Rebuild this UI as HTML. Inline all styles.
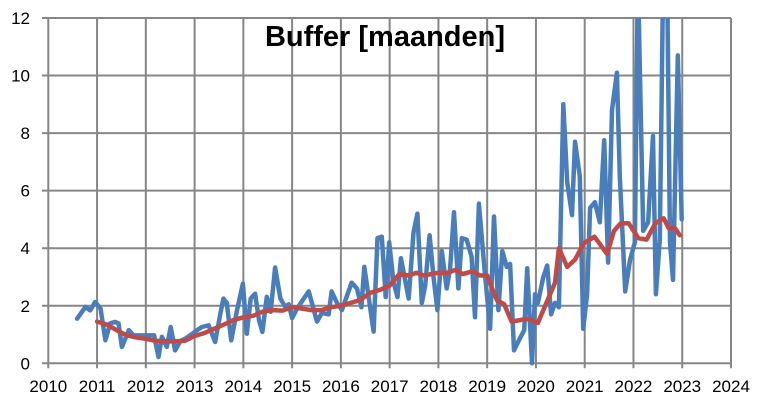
<!DOCTYPE html>
<html><head><meta charset="utf-8">
<style>
html,body{margin:0;padding:0;background:#fff;}
svg{display:block;font-family:"Liberation Sans",Calibri,sans-serif;}
</style></head>
<body>
<svg id="chart" width="766" height="411" viewBox="0 0 766 411">
  <g id="grid"></g>
  <g id="axes"></g>
  <g id="series"></g>
  <text x="385" y="46" text-anchor="middle" font-size="29" font-weight="bold" fill="#000">Buffer [maanden]</text>
</svg>
<script>
const xTicks = [2010,2011,2012,2013,2014,2015,2016,2017,2018,2019,2020,2021,2022,2023,2024];
const yTicks = [0,2,4,6,8,10,12];
const blueDates = [2010.59,2010.76,2010.86,2010.96,2011.07,2011.17,2011.27,2011.37,2011.44,2011.51,2011.65,2011.75,2011.92,2012.09,2012.17,2012.26,2012.33,2012.43,2012.51,2012.60,2012.71,2012.81,2012.95,2013.05,2013.15,2013.29,2013.42,2013.53,2013.59,2013.66,2013.75,2013.87,2013.99,2014.07,2014.15,2014.24,2014.32,2014.39,2014.48,2014.56,2014.65,2014.76,2014.86,2014.93,2015.00,2015.10,2015.34,2015.51,2015.61,2015.75,2015.81,2015.92,2016.02,2016.22,2016.33,2016.42,2016.48,2016.67,2016.75,2016.84,2016.92,2016.99,2017.08,2017.16,2017.23,2017.39,2017.49,2017.57,2017.66,2017.73,2017.82,2017.90,2017.98,2018.07,2018.17,2018.24,2018.32,2018.41,2018.48,2018.58,2018.68,2018.75,2018.83,2018.94,2019.06,2019.14,2019.23,2019.31,2019.40,2019.47,2019.55,2019.67,2019.76,2019.82,2019.92,2019.98,2020.04,2020.15,2020.23,2020.31,2020.39,2020.47,2020.56,2020.64,2020.74,2020.80,2020.90,2020.97,2021.05,2021.11,2021.21,2021.31,2021.40,2021.48,2021.56,2021.66,2021.72,2021.83,2021.93,2022.03,2022.09,2022.20,2022.30,2022.40,2022.46,2022.54,2022.61,2022.69,2022.75,2022.81,2022.91,2022.99];
const blueValues = [1.55,1.96,1.84,2.13,1.91,0.80,1.39,1.44,1.39,0.57,1.15,0.97,0.97,0.97,0.97,0.22,0.92,0.57,1.26,0.45,0.78,0.86,1.02,1.15,1.26,1.32,0.74,1.73,2.25,2.1,0.80,1.84,2.77,1.03,2.25,2.42,1.50,1.09,2.31,1.79,3.33,2.25,1.96,2.05,1.57,1.9,2.5,1.45,1.75,1.7,2.5,2.1,1.85,2.8,2.6,1.95,3.35,1.1,4.35,4.4,2.3,4.2,2.8,2.3,3.65,2.25,4.55,5.2,2.1,2.7,4.45,3.0,1.85,3.9,2.6,3.3,5.25,2.6,4.35,4.3,3.7,1.6,5.55,3.35,1.2,5.1,1.85,3.9,3.35,3.45,0.45,0.87,1.15,3.3,0.0,2.4,2.1,3.0,3.4,1.7,2.1,1.95,9.0,6.3,5.15,7.7,6.5,1.2,2.4,5.4,5.6,4.9,7.75,3.5,8.8,10.1,6.5,2.5,3.6,4.2,13.5,4.6,4.9,7.9,2.4,4.3,13.5,13.5,4.2,2.9,10.7,5.0];
const redDates = [2011.0,2011.2,2011.4,2011.6,2011.8,2012.0,2012.2,2012.5,2012.8,2013.0,2013.2,2013.4,2013.6,2013.8,2014.0,2014.2,2014.4,2014.6,2014.8,2015.0,2015.2,2015.4,2015.6,2015.8,2016.0,2016.2,2016.4,2016.6,2016.8,2017.0,2017.2,2017.4,2017.55,2017.7,2018.0,2018.2,2018.35,2018.5,2018.7,2018.85,2019.0,2019.1,2019.2,2019.35,2019.5,2019.67,2019.82,2020.04,2020.15,2020.39,2020.47,2020.64,2020.8,2020.98,2021.2,2021.46,2021.6,2021.74,2021.9,2022.1,2022.27,2022.45,2022.62,2022.72,2022.85,2022.95];
const redValues = [1.45,1.35,1.15,0.98,0.9,0.85,0.78,0.76,0.78,0.95,1.05,1.2,1.35,1.5,1.6,1.65,1.8,1.85,1.83,1.95,1.9,1.85,1.85,1.95,2.0,2.1,2.2,2.45,2.55,2.7,3.1,3.05,3.15,3.05,3.15,3.15,3.25,3.1,3.2,3.05,3.05,2.6,2.2,2.05,1.45,1.5,1.55,1.4,1.85,2.8,4.0,3.35,3.6,4.17,4.4,3.8,4.6,4.87,4.87,4.35,4.3,4.87,5.04,4.7,4.7,4.45];

const NS='http://www.w3.org/2000/svg';
const L=48.3, R=731, T=18, B=363.3, X0=2010, X1=2024, Y0=0, Y1=12;
function xs(v){return L+(v-X0)/(X1-X0)*(R-L);}
function ys(v){return B-(v-Y0)/(Y1-Y0)*(B-T);}
function mk(tag,attrs,parent){const e=document.createElementNS(NS,tag);for(const k in attrs)e.setAttribute(k,attrs[k]);parent.appendChild(e);return e;}
const grid=document.getElementById('grid'), axes=document.getElementById('axes'), series=document.getElementById('series');

yTicks.forEach(t=>{
  const ln=mk('line',{x1:42,x2:R,y1:ys(t),y2:ys(t),stroke:'#868686','stroke-width':2},grid);
  
  
  const tx=mk('text',{x:30,y:ys(t)+6,'text-anchor':'end','font-size':17,fill:'#000'},axes);
  tx.textContent=t;
  
  
});
xTicks.forEach(t=>{
  const ln=mk('line',{x1:xs(t),x2:xs(t),y1:T,y2:B+5,stroke:'#868686','stroke-width':2},grid);
  
  
  const tx=mk('text',{x:xs(t),y:392,'text-anchor':'middle','font-size':17,fill:'#000'},axes);
  tx.textContent=t;
  
  
});

const clip=mk('clipPath',{id:'pc'},series);
mk('rect',{x:L-5,y:T,width:R-L+10,height:B-T+6},clip);
function path(dates,vals){return dates.map((d,i)=>(i?'L':'M')+xs(d).toFixed(1)+','+ys(vals[i]).toFixed(1)).join(' ');}
const blue=mk('path',{d:path(blueDates,blueValues),fill:'none',stroke:'#4a7ebb','stroke-width':4.5,'stroke-linejoin':'round','stroke-linecap':'round','clip-path':'url(#pc)'},series);


const red=mk('path',{d:path(redDates,redValues),fill:'none',stroke:'#be4b48','stroke-width':4.5,'stroke-linejoin':'round','stroke-linecap':'round','clip-path':'url(#pc)'},series);


</script>
</body></html>
